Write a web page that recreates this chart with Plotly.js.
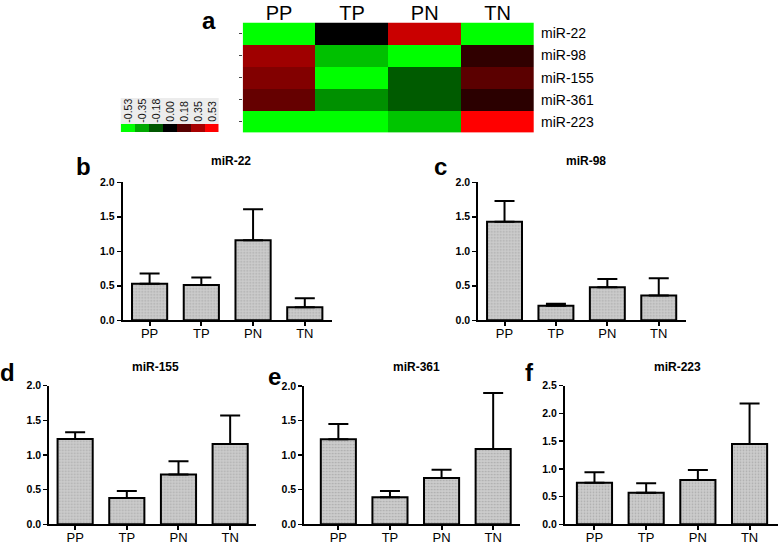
<!DOCTYPE html>
<html><head><meta charset="utf-8">
<script src="https://cdn.plot.ly/plotly-3.0.1.min.js"></script>
<style>html,body{margin:0;padding:0;background:#fff;}#chart{width:778px;height:545px;}</style>
</head><body><div id="chart"></div>
<script>
// ---------- data ----------
const groups = ['PP', 'TP', 'PN', 'TN'];
const heatRows = ['miR-22', 'miR-98', 'miR-155', 'miR-361', 'miR-223'];
const heatZ = [
  [-0.53,  0.00,  0.42, -0.53],
  [ 0.33, -0.40, -0.53,  0.10],
  [ 0.27, -0.53, -0.19,  0.19],
  [ 0.21, -0.30, -0.19,  0.09],
  [-0.53, -0.53, -0.41,  0.53]
];
const scaleValues = [-0.53, -0.35, -0.18, 0.00, 0.18, 0.35, 0.53];
const scaleLabels = ['-0.53', '-0.35', '-0.18', '0.00', '0.18', '0.35', '0.53'];

const panelTitles = ['miR-22', 'miR-98', 'miR-155', 'miR-361', 'miR-223'];
const panelLetters = ['b', 'c', 'd', 'e', 'f'];
const mir22Mean  = [0.53, 0.51, 1.16, 0.19];
const mir22Sem   = [0.15, 0.11, 0.45, 0.13];
const mir98Mean  = [1.43, 0.21, 0.48, 0.36];
const mir98Sem   = [0.30, 0.03, 0.12, 0.25];
const mir155Mean = [1.23, 0.38, 0.72, 1.16];
const mir155Sem  = [0.10, 0.10, 0.19, 0.41];
const mir361Mean = [1.23, 0.39, 0.67, 1.09];
const mir361Sem  = [0.22, 0.09, 0.12, 0.81];
const mir223Mean = [0.75, 0.57, 0.80, 1.45];
const mir223Sem  = [0.19, 0.17, 0.18, 0.73];
const yMaxes = [2.0, 2.0, 2.0, 2.0, 2.5];

// ---------- layout helpers ----------
const W = 778, H = 545;
const px = x => x / W;
const py = y => 1 - y / H;
const FONT = 'Arial, "Liberation Sans", sans-serif';

const means = [mir22Mean, mir98Mean, mir155Mean, mir361Mean, mir223Mean];
const sems = [mir22Sem, mir98Sem, mir155Sem, mir361Sem, mir223Sem];
const boxes = [
  {l:122.7, r:331.7, t:182.3, b:320.3, xr:[-0.52,3.52], tx:231, ty:161.5, lx:83.5, ly:166},
  {l:478.3, r:686.0, t:182.3, b:320.3, xr:[-0.51,3.53], tx:585.5, ty:161.5, lx:440, ly:166},
  {l:49.3,  r:256.0, t:385.7, b:524.3, xr:[-0.50,3.50], tx:155, ty:367, lx:7, ly:372},
  {l:304.3, r:520.0, t:386.0, b:524.3, xr:[-0.66,3.52], tx:416.7, ty:367, lx:274.3, ly:376},
  {l:565.0, r:778.0, t:385.7, b:524.3, xr:[-0.57,3.55], tx:677, ty:367, lx:529, ly:372}
];

const data = [];
const layout = {
  width: W, height: H,
  margin: {l:0, r:0, t:0, b:0, pad:0},
  paper_bgcolor: '#fff', plot_bgcolor: 'rgba(0,0,0,0)',
  showlegend: false,
  font: {family: FONT, color: '#000'},
  annotations: [], shapes: []
};

// ---------- heatmap (panel a) ----------
const cs = [[0, '#00ff00'], [0.5, '#000000'], [1, '#ff0000']];
data.push({
  type: 'heatmap', x: groups, y: heatRows, z: heatZ,
  colorscale: cs, zmin: -0.53, zmax: 0.53, showscale: false,
  xaxis: 'x', yaxis: 'y', hoverinfo: 'skip'
});
data.push({
  type: 'scatter', mode: 'markers', x: groups.map(() => groups[0]), y: heatRows,
  marker: {opacity: 0}, xaxis: 'x', yaxis: 'y2', hoverinfo: 'skip'
});
layout.xaxis = {
  domain: [px(242.7), px(534)], anchor: 'y', side: 'top', type: 'category',
  categoryarray: groups, range: [-0.5, 3.5], ticks: '', showline: false, showgrid: false,
  zeroline: false, tickfont: {size: 20, family: FONT, color: '#000'}, ticklabelstandoff: -2
};
layout.yaxis = {
  domain: [py(132.7), py(22.5)], anchor: 'x', type: 'category', categoryarray: heatRows,
  range: [4.5, -0.5], ticks: 'outside', ticklen: 3, tickwidth: 1, tickcolor: '#444',
  showticklabels: false, showline: false, showgrid: false, zeroline: false
};
layout.yaxis2 = {
  overlaying: 'y', anchor: 'x', side: 'right', type: 'category', categoryarray: heatRows,
  range: [4.5, -0.5], ticks: '', showline: false, showgrid: false, zeroline: false,
  ticklabelstandoff: 6,
  tickfont: {size: 14, family: FONT, color: '#000'}
};
layout.annotations.push({
  text: '<b>a</b>', xref: 'paper', yref: 'paper', x: px(209), y: py(20),
  xanchor: 'center', yanchor: 'middle', showarrow: false, font: {size: 24, family: FONT}
});

// ---------- colour key ----------
data.push({
  type: 'heatmap', x: scaleValues.map((v, i) => i), y: [0], z: [scaleValues],
  colorscale: cs, zmin: -0.53, zmax: 0.53, showscale: false,
  xaxis: 'x3', yaxis: 'y3', hoverinfo: 'skip'
});
layout.xaxis3 = {domain: [px(120.7), px(218.7)], anchor: 'y3', range: [-0.5, 6.5], visible: false};
layout.yaxis3 = {domain: [py(132), py(124)], anchor: 'x3', range: [-0.5, 0.5], visible: false};
layout.shapes.push({
  type: 'rect', xref: 'paper', yref: 'paper', x0: px(120.7), x1: px(218.7),
  y0: py(124), y1: py(98), fillcolor: '#ececec', line: {width: 0}, layer: 'below'
});
scaleLabels.forEach((lab, i) => {
  layout.annotations.push({
    text: lab, xref: 'x3', yref: 'paper', x: i, y: py(111), textangle: -90,
    xanchor: 'center', yanchor: 'middle', showarrow: false,
    font: {size: 10.5, family: FONT, color: '#111'}
  });
});

// ---------- bar panels ----------
boxes.forEach((bx, k) => {
  const n = k + 4;
  const xa = 'x' + n, ya = 'y' + n;
  data.push({
    type: 'bar', x: groups, y: means[k], width: 0.68,
    xaxis: xa, yaxis: ya, hoverinfo: 'skip',
    marker: {
      color: '#cdcdcd', line: {color: '#000', width: 2},
      pattern: {shape: '.', fillmode: 'replace', bgcolor: '#cccccc', fgcolor: '#ababab', size: 3, solidity: 0.25}
    },
    error_y: {
      type: 'data', symmetric: false, array: sems[k], arrayminus: sems[k].map(() => 0),
      color: '#000', thickness: 2, width: 10
    }
  });
  layout['xaxis' + n] = {
    domain: [px(bx.l), px(bx.r)], anchor: ya, type: 'category', categoryarray: groups,
    range: bx.xr, showline: true, linecolor: '#000', linewidth: 2,
    ticks: 'outside', ticklen: 4, tickwidth: 2, tickcolor: '#000',
    showgrid: false, zeroline: false, ticklabelstandoff: -4,
    tickfont: {size: 13, family: FONT, color: '#000'}
  };
  layout['yaxis' + n] = {
    domain: [py(bx.b), py(bx.t)], anchor: xa, range: [0, yMaxes[k]], dtick: 0.5,
    tickformat: '.1f', showline: true, linecolor: '#000', linewidth: 2,
    ticks: 'outside', ticklen: 4, tickwidth: 1.5, tickcolor: '#000',
    showgrid: false, zeroline: false, ticklabelstandoff: 0,
    tickfont: {size: 10.5, family: '"Liberation Sans", Arial, sans-serif', color: '#000', weight: 'bold'}
  };
  layout.annotations.push({
    text: '<b>' + panelTitles[k] + '</b>', xref: 'paper', yref: 'paper',
    x: px(bx.tx), y: py(bx.ty), xanchor: 'center', yanchor: 'middle', showarrow: false,
    font: {size: 12, family: FONT}
  });
  layout.annotations.push({
    text: '<b>' + panelLetters[k] + '</b>', xref: 'paper', yref: 'paper',
    x: px(bx.lx), y: py(bx.ly), xanchor: 'center', yanchor: 'middle', showarrow: false,
    font: {size: 24, family: FONT}
  });
});

Plotly.newPlot('chart', data, layout, {staticPlot: true, displayModeBar: false});
</script>
</body></html>
